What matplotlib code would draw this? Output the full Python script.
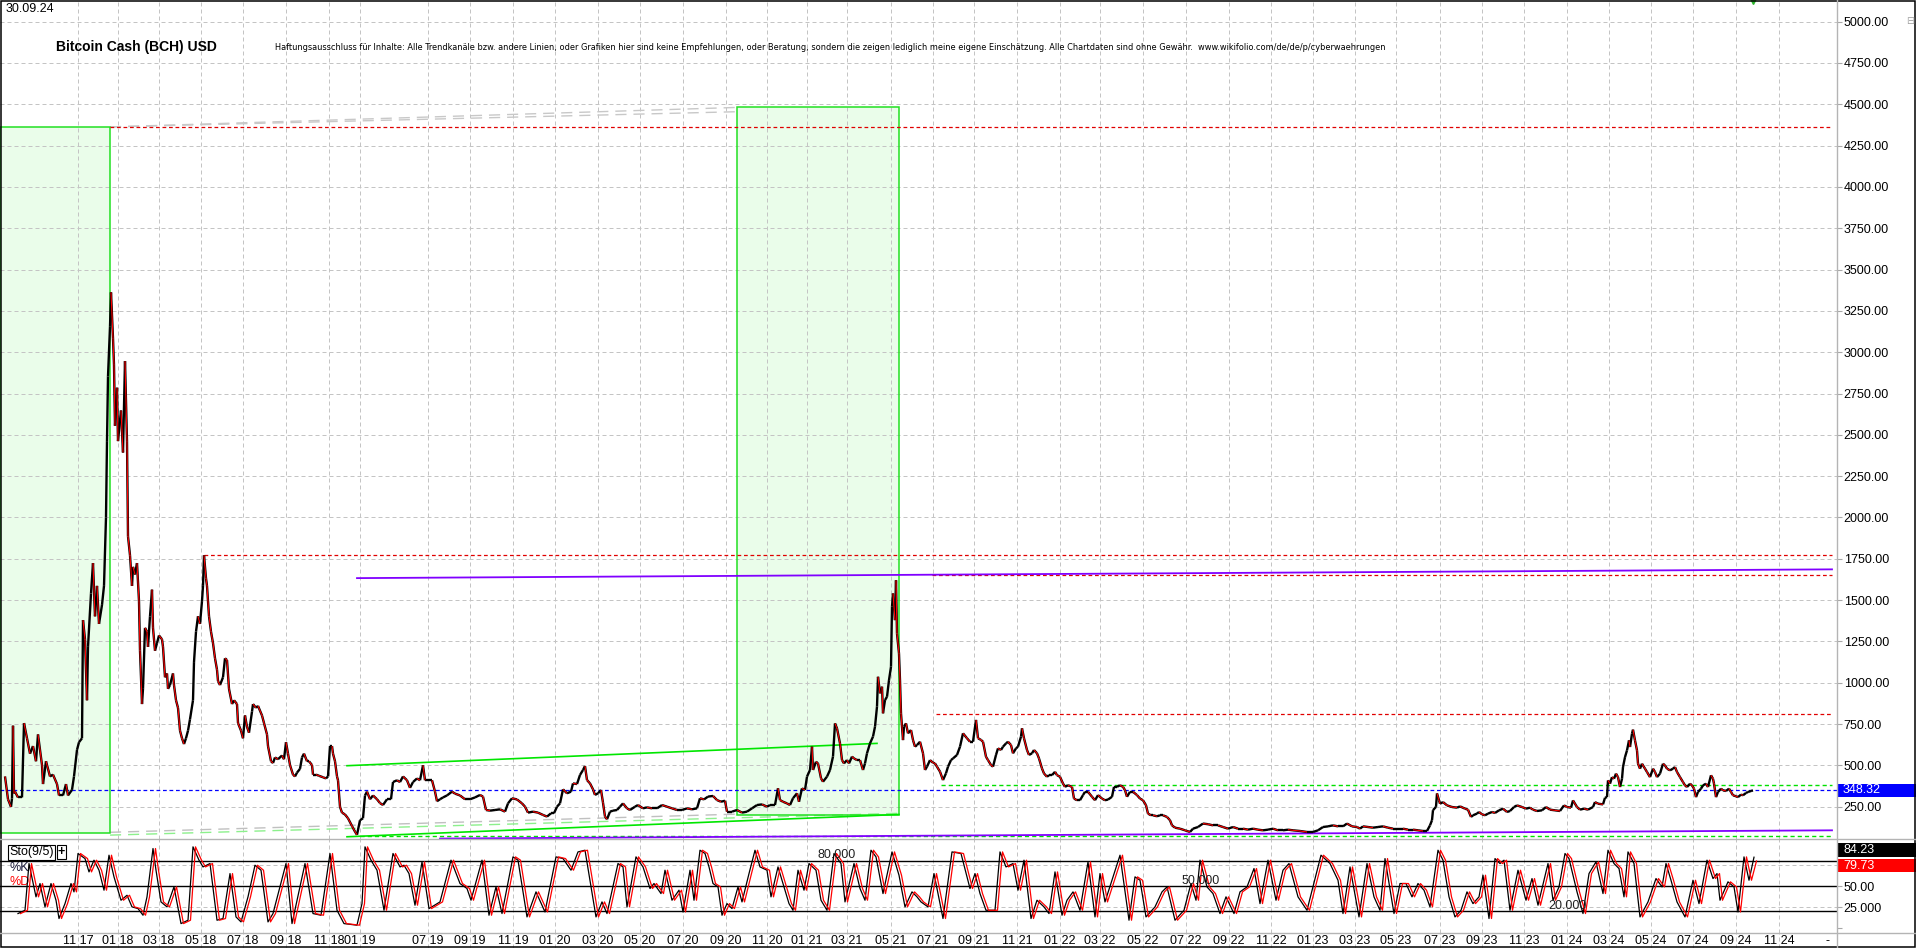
import matplotlib
matplotlib.use("Agg")
import matplotlib.pyplot as plt
import numpy as np
from matplotlib.collections import LineCollection
from matplotlib.lines import Line2D
from matplotlib.patches import Rectangle
from matplotlib.transforms import IdentityTransform
from matplotlib import font_manager

plt.rcParams["font.family"] = ["Liberation Sans", "DejaVu Sans"]

# ---- data: (bar index, close in USD) ----
CLOSE_2017_18 = [
    (5, 433), (8, 295), (11, 249), (12, 300), (13, 740), (14, 330), (15, 341), (18, 306), (22, 306),
    (24, 756), (27, 664), (30, 571), (33, 617), (36, 525), (38, 687), (42, 502), (43, 387), (46, 525),
    (50, 433), (53, 444), (57, 387), (59, 318), (63, 318), (66, 387), (68, 318), (72, 352), (74, 433),
    (77, 594), (79, 640), (82, 664), (83, 1379), (85, 1263), (87, 894), (88, 1217), (91, 1540),
    (93, 1724), (95, 1402), (97, 1586), (99, 1356), (102, 1471), (104, 1586), (106, 2001), (107, 2462),
    (108, 2854), (110, 3154), (111, 3362), (113, 3085), (114, 2923), (115, 2555), (117, 2785),
    (118, 2462), (121, 2647), (123, 2393), (125, 2946), (127, 2462), (128, 1886), (130, 1771),
    (132, 1586), (133, 1701), (135, 1655), (137, 1724), (139, 1494), (140, 1194), (142, 871), (143, 963),
    (145, 1332), (147, 1309), (148, 1217), (150, 1402), (152, 1563), (153, 1332), (155, 1194),
    (157, 1240), (159, 1286), (162, 1263), (163, 1217), (165, 1033), (167, 1056), (168, 963), (170, 986),
    (173, 1056), (174, 986), (176, 894), (178, 848), (180, 710), (182, 664), (184, 629), (186, 664),
    (188, 710), (190, 779), (193, 894), (194, 1125), (196, 1309), (198, 1402), (200, 1356), (202, 1494),
    (203, 1586), (204, 1771), (206, 1632), (207, 1586), (209, 1402), (211, 1309), (213, 1240),
    (215, 1148), (217, 1079), (218, 1010), (220, 986), (223, 1033), (225, 1148), (227, 1137), (229, 963),
    (232, 871), (234, 894), (237, 871), (238, 756), (241, 710), (243, 664), (245, 802), (247, 733),
    (249, 698), (252, 825), (253, 871), (256, 848), (258, 860), (262, 802), (264, 756), (267, 687),
    (268, 617), (271, 525), (273, 514), (275, 548), (278, 537), (282, 560), (284, 537), (286, 640),
    (288, 571), (290, 502), (293, 444), (295, 433), (297, 456), (300, 479), (302, 548), (304, 571),
    (307, 525), (309, 525), (312, 502), (313, 444), (316, 444), (319, 437), (323, 428), (326, 421),
    (328, 433), (330, 617), (332, 617), (333, 571), (335, 525), (337, 433), (338, 410), (340, 249),
    (342, 214), (345, 203), (348, 180), (352, 133), (355, 99), (357, 80),
]
CLOSE_2019_20 = [
    (360, 168), (363, 180), (365, 318), (367, 341), (370, 295), (373, 318), (377, 295), (380, 272),
    (383, 260), (387, 295), (391, 295), (393, 399), (397, 410), (400, 399), (403, 433), (407, 410),
    (410, 364), (413, 399), (417, 421), (420, 410), (423, 500), (425, 410), (428, 410), (432, 410),
    (435, 341), (437, 283), (440, 295), (443, 306), (447, 318), (452, 341), (455, 329), (460, 318),
    (465, 295), (470, 295), (475, 306), (480, 321), (483, 311), (486, 230), (490, 226), (495, 230),
    (500, 234), (505, 220), (508, 270), (512, 301), (517, 294), (522, 270), (525, 250), (528, 214),
    (533, 220), (538, 214), (543, 200), (547, 190), (551, 210), (554, 210), (557, 250), (560, 270),
    (563, 355), (567, 331), (571, 341), (573, 391), (577, 387), (580, 442), (583, 472), (585, 496),
    (587, 411), (590, 391), (593, 355), (595, 321), (598, 331), (601, 351), (603, 274), (605, 190),
    (607, 174), (610, 220), (613, 226), (617, 230), (620, 250), (623, 270), (627, 240), (630, 230),
    (635, 250), (638, 260), (643, 240), (647, 246), (652, 240), (657, 240), (662, 260), (667, 250),
    (672, 240), (677, 230), (682, 230), (687, 240), (692, 234), (697, 240), (700, 301), (704, 294),
    (708, 311), (713, 315), (717, 290), (721, 280), (725, 286), (727, 220), (732, 220), (737, 230),
    (742, 214), (747, 220), (752, 240), (757, 260), (762, 264), (767, 250), (770, 260), (775, 260),
    (778, 361), (780, 290), (783, 280), (787, 270), (790, 260), (793, 301), (797, 331), (799, 280),
]
CLOSE_2021_22 = [
    (802, 361), (805, 351), (807, 432), (810, 472), (812, 613), (813, 472), (816, 522), (818, 512),
    (821, 422), (823, 401), (827, 432), (830, 472), (833, 553), (835, 754), (837, 724), (840, 633),
    (842, 532), (844, 512), (847, 532), (849, 512), (852, 553), (854, 542), (857, 532), (860, 532),
    (863, 472), (865, 512), (867, 573), (870, 633), (873, 674), (875, 734), (877, 855), (878, 1036),
    (880, 936), (882, 976), (883, 815), (885, 895), (887, 915), (889, 1016), (891, 1097), (892, 1460),
    (893, 1540), (895, 1379), (896, 1620), (897, 1298), (899, 1177), (900, 1016), (901, 815),
    (903, 653), (904, 734), (906, 754), (908, 694), (911, 714), (913, 653), (915, 613), (917, 623),
    (920, 643), (923, 573), (925, 472), (927, 492), (930, 532), (933, 516), (935, 512), (937, 492),
    (940, 462), (943, 411), (946, 452), (948, 492), (951, 532), (953, 542), (957, 563), (960, 613),
    (963, 694), (967, 664), (970, 643), (973, 643), (976, 775), (978, 664), (981, 654), (983, 643),
    (986, 552), (988, 532), (991, 502), (993, 492), (996, 563), (998, 603), (1001, 593), (1003, 613),
    (1006, 633), (1008, 643), (1011, 623), (1013, 573), (1016, 603), (1018, 613), (1021, 674),
    (1022, 724), (1024, 664), (1027, 593), (1029, 563), (1032, 573), (1034, 593), (1037, 573),
    (1039, 542), (1042, 481), (1044, 451), (1047, 431), (1049, 441), (1052, 441), (1055, 461),
    (1057, 441), (1060, 431), (1063, 390), (1065, 370), (1068, 380), (1072, 370), (1074, 299),
    (1077, 289), (1080, 289), (1083, 320), (1085, 340), (1088, 340), (1092, 310), (1095, 289),
    (1098, 320), (1102, 299), (1105, 289), (1108, 293), (1112, 310), (1114, 370), (1117, 370),
    (1120, 380), (1123, 370), (1125, 350), (1127, 310), (1130, 340), (1133, 340), (1137, 320),
    (1140, 299), (1143, 289), (1146, 259), (1148, 208), (1151, 198), (1153, 198), (1157, 192),
    (1160, 198), (1163, 198), (1167, 188), (1170, 168), (1172, 137), (1175, 123), (1180, 117),
    (1185, 107), (1190, 97), (1193, 117), (1198, 127), (1203, 148), (1208, 144), (1213, 137),
    (1218, 137), (1223, 127), (1228, 117), (1233, 127), (1238, 117), (1243, 117), (1248, 111),
    (1253, 117), (1258, 111), (1263, 107), (1268, 111),
]
CLOSE_2023_24 = [
    (1273, 117), (1278, 107), (1283, 107), (1288, 111), (1293, 107), (1300, 103), (1307, 97),
    (1313, 97), (1318, 107), (1323, 127), (1328, 131), (1333, 137), (1338, 131), (1343, 131),
    (1347, 148), (1352, 131), (1357, 127), (1360, 117), (1363, 131), (1368, 127), (1373, 123),
    (1378, 127), (1383, 131), (1388, 123), (1393, 117), (1398, 117), (1403, 117), (1408, 111),
    (1413, 111), (1418, 107), (1423, 103), (1427, 103), (1430, 137), (1432, 168), (1433, 229),
    (1436, 249), (1437, 330), (1439, 289), (1440, 268), (1443, 278), (1447, 258), (1452, 248),
    (1457, 244), (1460, 252), (1465, 238), (1468, 232), (1471, 188), (1473, 198), (1477, 208),
    (1479, 218), (1482, 204), (1485, 198), (1488, 208), (1492, 218), (1495, 212), (1499, 228),
    (1503, 238), (1507, 218), (1510, 224), (1514, 248), (1517, 258), (1522, 248), (1526, 238),
    (1530, 244), (1533, 232), (1537, 224), (1542, 228), (1546, 248), (1550, 232), (1555, 228),
    (1560, 224), (1564, 258), (1567, 248), (1571, 244), (1573, 288), (1577, 248), (1580, 232),
    (1584, 238), (1588, 232), (1593, 248), (1595, 278), (1598, 268), (1603, 264), (1605, 304),
    (1607, 308), (1608, 409), (1610, 389), (1612, 429), (1614, 419), (1616, 450), (1618, 429),
    (1620, 369), (1622, 419), (1623, 490), (1625, 550), (1627, 591), (1629, 651), (1630, 611),
    (1632, 692), (1633, 716), (1635, 651), (1637, 591), (1638, 510), (1640, 480), (1642, 510),
    (1645, 480), (1647, 460), (1650, 429), (1653, 480), (1655, 460), (1657, 429), (1660, 450),
    (1663, 510), (1665, 500), (1667, 480), (1670, 470), (1673, 480), (1675, 490), (1677, 460),
    (1680, 429), (1683, 399), (1685, 379), (1687, 369), (1690, 389), (1692, 379), (1694, 359),
    (1696, 308), (1698, 339), (1701, 359), (1703, 379), (1706, 389), (1708, 369), (1711, 440),
    (1713, 419), (1714, 389), (1716, 308), (1718, 339), (1721, 359), (1723, 349), (1726, 345),
    (1729, 359), (1731, 339), (1733, 319), (1736, 313), (1738, 308), (1741, 323), (1743, 319),
    (1746, 333), (1748, 339), (1751, 345), (1753, 348.32),
]
LAST_CLOSE = 348.32

# ---- stochastic %K turning points: (bar index, value) ----
STO_2017_18 = [
    (18, 17.4), (25, 21.3), (29, 76.7), (36, 37.2), (40, 53), (45, 25.3), (51, 53), (56, 33.2),
    (59, 11.5), (65, 29.2), (71, 53), (74, 43.1), (78, 88.6), (85, 82.6), (89, 66.8), (94, 80.7),
    (99, 68.8), (104, 45.1), (109, 86.6), (114, 60.9), (121, 33.2), (127, 39.1), (132, 25.3),
    (138, 23.3), (143, 15.4), (147, 37.2), (153, 94.5), (156, 68.8), (161, 31.2), (167, 25.3),
    (174, 49), (181, 5.5), (188, 9.5), (193, 96.5), (199, 80.7), (203, 72.7), (210, 76.7), (217, 9.5),
    (223, 11.5), (230, 64.8), (236, 13.4), (241, 7.5), (248, 37.2), (255, 74.7), (261, 68.8),
    (268, 7.5), (273, 17.4), (286, 76.7), (292, 5.5), (305, 76.7), (313, 17.4), (321, 15.4),
    (330, 88.6), (337, 21.3), (344, 5.5), (357, 3.6),
]
STO_2019_20 = [
    (362, 29.2), (365, 96.5), (371, 80.7), (377, 68.8), (384, 21.3), (393, 88.6), (400, 72.7),
    (404, 74.7), (409, 64.8), (415, 27.3), (422, 78.7), (429, 23.3), (440, 31.2), (451, 80.7),
    (460, 53), (467, 47.1), (471, 33.2), (482, 80.7), (489, 15.4), (496, 49), (502, 17.4), (513, 84.6),
    (518, 80.7), (527, 13.4), (536, 43.1), (545, 19.3), (556, 84.6), (563, 82.6), (571, 68.8),
    (578, 90.5), (585, 92.5), (596, 13.4), (602, 31.2), (607, 17.4), (618, 76.7), (623, 72.7),
    (627, 25.3), (636, 84.6), (643, 72.7), (650, 47.1), (654, 53), (661, 41.1), (665, 68.8),
    (672, 33.2), (679, 45.1), (683, 19.3), (690, 68.8), (694, 33.2), (700, 92.5), (705, 88.6),
    (709, 72.7), (713, 53), (718, 49), (722, 15.4), (727, 29.2), (732, 23.3), (738, 49), (742, 31.2),
    (749, 64.8), (755, 92.5), (760, 72.7), (767, 68.8), (771, 37.2), (778, 72.7), (783, 53),
    (789, 29.2), (793, 21.3), (798, 68.8), (804, 45.1),
]
STO_2021_22 = [
    (809, 76.7), (816, 68.8), (821, 33.2), (827, 21.3), (834, 88.6), (841, 76.7), (845, 31.2),
    (854, 76.7), (860, 47.1), (865, 33.2), (871, 92.5), (876, 84.6), (883, 41.1), (892, 90.5),
    (899, 62.9), (905, 25.3), (912, 43.1), (917, 37.2), (921, 31.2), (928, 25.3), (934, 64.8),
    (943, 11.5), (952, 90.5), (961, 88.6), (970, 47.1), (975, 64.8), (980, 41.1), (986, 21.3),
    (995, 21.3), (1000, 90.5), (1006, 72.7), (1013, 76.7), (1018, 45.1), (1024, 80.7), (1031, 11.5),
    (1037, 33.2), (1044, 25.3), (1049, 17.4), (1055, 66.8), (1062, 15.4), (1067, 33.2), (1073, 43.1),
    (1080, 21.3), (1088, 78.7), (1095, 13.4), (1100, 64.8), (1105, 31.2), (1113, 60.9), (1120, 86.6),
    (1129, 9.5), (1135, 60.9), (1140, 56.9), (1146, 13.4), (1155, 25.3), (1162, 43.1), (1167, 49),
    (1175, 9.5), (1184, 21.3), (1191, 53), (1196, 33.2), (1200, 80.7), (1207, 49), (1213, 41.1),
    (1220, 17.4), (1226, 37.2), (1234, 17.4), (1240, 43.1), (1247, 49), (1254, 70.8), (1260, 29.2),
    (1268, 80.7), (1276, 33.2), (1283, 68.8), (1289, 76.7), (1298, 37.2),
]
STO_2023_24 = [
    (1307, 21.3), (1321, 86.6), (1330, 76.7), (1338, 56.9), (1343, 17.4), (1350, 72.7), (1359, 13.4),
    (1367, 76.7), (1374, 37.2), (1380, 21.3), (1385, 82.6), (1394, 17.4), (1400, 53), (1406, 53),
    (1412, 37.2), (1418, 53), (1424, 45.1), (1430, 25.3), (1438, 92.5), (1443, 80.7), (1449, 37.2),
    (1455, 13.4), (1461, 21.3), (1467, 43.1), (1473, 29.2), (1479, 37.2), (1483, 62.9), (1489, 11.5),
    (1495, 82.6), (1500, 76.7), (1504, 80.7), (1510, 21.3), (1518, 68.8), (1526, 33.2), (1532, 58.9),
    (1538, 27.3), (1548, 76.7), (1553, 33.2), (1559, 49), (1565, 88.6), (1569, 82.6), (1577, 43.1),
    (1583, 17.4), (1589, 64.8), (1596, 78.7), (1603, 41.1), (1608, 92.5), (1614, 76.7), (1619, 70.8),
    (1624, 37.2), (1628, 90.5), (1634, 76.7), (1640, 13.4), (1648, 31.2), (1656, 58.9), (1662, 49),
    (1666, 76.7), (1671, 56.9), (1677, 31.2), (1685, 13.4), (1693, 56.9), (1699, 29.2), (1707, 80.7),
    (1713, 58.9), (1717, 64.8), (1720, 33.2), (1728, 55), (1734, 49), (1738, 19.3), (1744, 84.6),
    (1749, 56.9), (1754, 84.23),
]
STO_K_LAST, STO_D_LAST = 84.23, 79.73
STO_LEVELS = [20, 50, 80]

# ---- drawn objects ----
RED_LEVELS = [4361, 1775, 1650, 810]          # dotted resistance lines
RED_FROM = [110, 204, 932, 936]
GREEN_LEVELS = [384, 70]                       # dotted support lines
GREEN_FROM = [941, 360]
PURPLE_TOP = [(357, 1633), (1832, 1686)]
PURPLE_BOTTOM = [(440, 57), (1832, 107)]
GREEN_TOP = [(347, 498), (877, 633)]
GREEN_BOTTOM = [(347, 68), (899, 203)]
GREY_FAN_TOP = [[(110, 4363), (737, 4481)], [(110, 4363), (737, 4455)]]
GREY_FAN_LOW = [(110, 95), (737, 205)]
LIGHT_FAN_LOW = [(110, 78), (900, 210)]
BOXES = [(0, 110, 88, 4363), (737, 899, 200, 4481)]   # x0, x1, low, high
LINE_END = 1832

DATE_TICKS = [78, 118, 159, 201, 243, 286, 329, 360, 428, 470, 513, 555, 598, 640, 683, 726, 767,
              807, 847, 891, 933, 974, 1017, 1060, 1100, 1143, 1186, 1229, 1271, 1313, 1355, 1396,
              1440, 1482, 1524, 1567, 1609, 1651, 1693, 1736, 1779]
DATE_LABELS = ["11 17", "01 18", "03 18", "05 18", "07 18", "09 18", "11 18", "01 19", "07 19",
               "09 19", "11 19", "01 20", "03 20", "05 20", "07 20", "09 20", "11 20", "01 21",
               "03 21", "05 21", "07 21", "09 21", "11 21", "01 22", "03 22", "05 22", "07 22",
               "09 22", "11 22", "01 23", "03 23", "05 23", "07 23", "09 23", "11 23", "01 24",
               "03 24", "05 24", "07 24", "09 24", "11 24"]
PRICE_TICKS = np.arange(250, 5001, 250)

TITLE = "Bitcoin Cash (BCH) USD"
DATE_STAMP = "30.09.24"
DISCLAIMER = ("Haftungsausschluss für Inhalte: Alle Trendkanäle bzw. andere Linien, oder Grafiken hier "
              "sind keine Empfehlungen, oder Beratung, sondern die zeigen lediglich meine eigene "
              "Einschätzung. Alle Chartdaten sind ohne Gewähr.  www.wikifolio.com/de/de/p/cyberwaehrungen")

# ---- layout (pixels, dpi 100) ----
W, H = 1916, 948
PLOT_W = 1837
PX = IdentityTransform()
GRID = dict(color="#c4c4c4", lw=0.72, ls=(0, (4, 3)), zorder=1)


def rect(top, bottom):
    return [0, 1 - bottom / H, PLOT_W / W, (bottom - top) / H]


fig = plt.figure(figsize=(W / 100, H / 100), dpi=100)
fig.patch.set_facecolor("white")
ax = fig.add_axes(rect(0, 839))
ax_sto = fig.add_axes(rect(839, 932.7))
ax_dt = fig.add_axes(rect(932.7, 948))

for a in (ax, ax_sto, ax_dt):
    a.set_xlim(0, PLOT_W)
    a.set_xticks([])
    for s in a.spines.values():
        s.set_visible(False)
    for t in DATE_TICKS:
        a.axvline(t, **GRID)

# ---- price panel ----
ax.set_ylim(54.5, 5131)
for v in PRICE_TICKS:
    ax.axhline(v, **GRID)
ax.yaxis.tick_right()
ax.set_yticks(PRICE_TICKS, [f"{v:.2f}" for v in PRICE_TICKS])
ax.tick_params(axis="y", length=3.3, width=0.8, color="#a8a8a8", pad=1.5, labelsize=9)

for x0, x1, lo, hi in BOXES:
    ax.add_patch(Rectangle((x0, lo), x1 - x0, hi - lo, fc="#eafdea", ec="none", zorder=0.5))
    ax.add_patch(Rectangle((x0, lo), x1 - x0, hi - lo, fc="none", ec="#22e022", lw=1.1, zorder=3))

for (x0, y0), (x1, y1) in GREY_FAN_TOP:
    ax.plot([x0, x1], [y0, y1], color="#c8c8c8", lw=1.0, ls=(0, (8, 5)), zorder=2)
ax.plot(*zip(*GREY_FAN_LOW), color="#c0c0c0", lw=1.0, ls=(0, (8, 5)), zorder=2)
ax.plot(*zip(*LIGHT_FAN_LOW), color="#8cf08c", lw=1.0, ls=(0, (8, 5)), zorder=2)

for lvl, x0 in zip(RED_LEVELS, RED_FROM):
    ax.hlines(lvl, x0, LINE_END, colors="#e00000", lw=0.9, linestyles=(0, (3, 2.2)), zorder=3)
for lvl, x0 in zip(GREEN_LEVELS, GREEN_FROM):
    ax.hlines(lvl, x0, LINE_END, colors="#00e000", lw=1.0, linestyles=(0, (3, 2.2)), zorder=3)
ax.axhline(LAST_CLOSE, color="#0000ff", lw=0.9, ls=(0, (3, 2.2)), zorder=3)

ax.plot(*zip(*PURPLE_TOP), color="#8000ff", lw=1.3, zorder=3)
ax.plot(*zip(*PURPLE_BOTTOM), color="#8000ff", lw=1.3, zorder=3)
ax.plot(*zip(*GREEN_TOP), color="#00e600", lw=1.2, zorder=3)
ax.plot(*zip(*GREEN_BOTTOM), color="#00e600", lw=1.2, zorder=3)

# candles at this scale: black outline everywhere, red body where the close falls
pts = np.array(CLOSE_2017_18 + CLOSE_2019_20 + CLOSE_2021_22 + CLOSE_2023_24, dtype=float)
segs = np.stack([pts[:-1], pts[1:]], axis=1)
falling = pts[1:, 1] < pts[:-1, 1]
ax.add_collection(LineCollection(segs, colors="#000000", linewidths=1.7, zorder=5))
ax.add_collection(LineCollection(segs[falling], colors="#ff0000", linewidths=0.8, zorder=6))
ax.plot([pts[-1, 0]], [5137], marker="v", ms=7, color="#2db52d", zorder=6, clip_on=True)

# ---- stochastic panel ----
ax_sto.set_ylim(-5.3, 105.8)
for v in (25, 50, 75):
    ax_sto.axhline(v, **GRID)
for v in STO_LEVELS:
    ax_sto.axhline(v, color="black", lw=1.0, zorder=2)
ax_sto.yaxis.tick_right()
ax_sto.set_yticks([0, 25, 50], ["", "25.000", "50.00"])
ax_sto.tick_params(axis="y", length=3.3, width=0.8, color="#a8a8a8", pad=1.5, labelsize=9)

k = np.array(STO_2017_18 + STO_2019_20 + STO_2021_22 + STO_2023_24, dtype=float)
d = k[:, 1].copy()
d[-1] = STO_D_LAST
ax_sto.plot(k[:, 0], k[:, 1], color="black", lw=0.9, zorder=4)
ax_sto.plot(k[:, 0] + 2.5, d, color="#ff0000", lw=0.9, zorder=5)

for lvl, x0 in zip(STO_LEVELS, [1548, 1182, 817]):
    ax_sto.annotate(f"{lvl:.3f}", xy=(x0, lvl), xytext=(0, 5.5), textcoords="offset pixels",
                    ha="left", va="center", fontsize=9, color="#202020", zorder=6)

ax_sto.annotate("Sto(9/5)", xy=(0, 1), xycoords="axes fraction", xytext=(9, -13),
                textcoords="offset pixels", ha="left", va="center", fontsize=9,
                bbox=dict(boxstyle="square,pad=0.12", fc="white", ec="black", lw=0.8), zorder=7)
ax_sto.annotate("+", xy=(0, 1), xycoords="axes fraction", xytext=(61.5, -13),
                textcoords="offset pixels", ha="center", va="center", fontsize=9, weight="bold",
                bbox=dict(boxstyle="square,pad=0.08", fc="white", ec="black", lw=0.8), zorder=7)
ax_sto.annotate("%K", xy=(0, 1), xycoords="axes fraction", xytext=(9, -29),
                textcoords="offset pixels", ha="left", va="center", fontsize=9, color="#1a1a3a")
ax_sto.annotate("%D", xy=(0, 1), xycoords="axes fraction", xytext=(9, -43),
                textcoords="offset pixels", ha="left", va="center", fontsize=9, color="#ff0000")

# ---- date strip ----
ax_dt.set_ylim(0, 1)
ax_dt.set_yticks([])
for t, lab in zip(DATE_TICKS, DATE_LABELS):
    ax_dt.text(t, 0.45, lab, ha="center", va="center", fontsize=9)
ax_dt.text(1828, 0.45, "-", ha="center", va="center", fontsize=9)


# ---- value tags on the right scale ----
def tag(axis, value, text, bg, shift=0.0):
    y = axis.transData.transform((0, value))[1] + shift
    fig.add_artist(Rectangle((PLOT_W, y - 6.7), W - PLOT_W, 13.4, transform=PX, fc=bg, ec="none"))
    fig.text(PLOT_W + 6, y, text, transform=PX, color="white", ha="left", va="center", fontsize=9)


tag(ax, LAST_CLOSE, f"{LAST_CLOSE:.2f}", "#0000ff")
tag(ax_sto, STO_K_LAST, f"{STO_K_LAST:.2f}", "#000000", shift=7)
tag(ax_sto, STO_D_LAST, f"{STO_D_LAST:.2f}", "#ff0000", shift=-4.7)

# ---- frame, separators ----
for row in (839, 932.7):
    fig.add_artist(Line2D([0, W], [H - row, H - row], transform=PX, color="#b4b4b4", lw=1.0))
fig.add_artist(Line2D([PLOT_W, PLOT_W], [0, H], transform=PX, color="#b4b4b4", lw=1.0))
fig.add_artist(Rectangle((0.7, 0.7), W - 1.4, H - 1.4, transform=PX, fill=False, ec="black", lw=1.1))
fig.text(1910, H - 21, "\u229f", transform=PX, ha="center", va="center", fontsize=7,
         color="#a0a0a0", family="DejaVu Sans")

# ---- header texts ----
fig.text(6, H - 9, DATE_STAMP, transform=PX, ha="left", va="center", fontsize=9)
fig.text(56, H - 47, TITLE, transform=PX, ha="left", va="center", fontsize=10, weight="bold")

# narrow face for the disclaimer, whichever condensed family is installed
narrow = None
for fam, stretch in (("Liberation Sans Narrow", "normal"), ("DejaVu Sans", "condensed")):
    try:
        path = font_manager.findfont(font_manager.FontProperties(family=fam, stretch=stretch),
                                     fallback_to_default=False)
        if "Narrow" in path or "Condensed" in path:
            narrow = font_manager.FontProperties(fname=path)
            break
    except Exception:
        pass
if narrow is None:
    narrow = font_manager.FontProperties(family="Liberation Sans")
disc = fig.text(275, H - 47, DISCLAIMER, transform=PX, ha="left", va="center", fontproperties=narrow)
disc.set_fontsize(7.5)
width = disc.get_window_extent(fig.canvas.get_renderer()).width
disc.set_fontsize(7.5 * 1097 / width)

fig.savefig("out.png", dpi=100)
